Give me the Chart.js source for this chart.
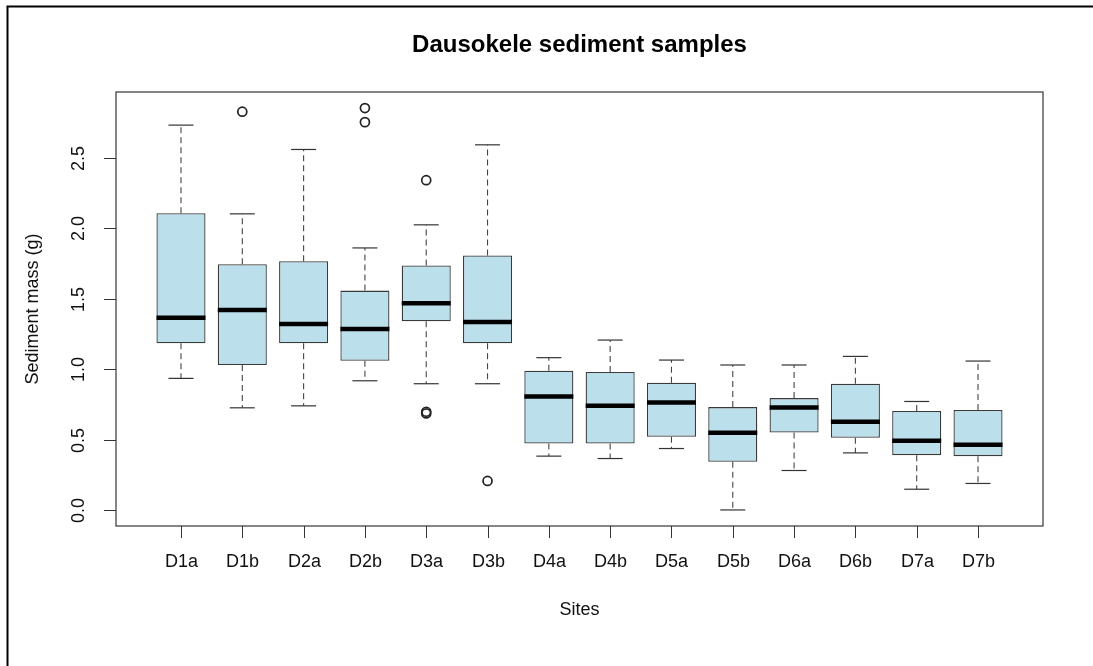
<!DOCTYPE html>
<html>
<head>
<meta charset="utf-8">
<script src="https://cdn.jsdelivr.net/npm/chart.js@4/dist/chart.umd.min.js"></script>
<style>
  html, body { margin: 0; padding: 0; background: #fff; }
  canvas { display: block; }
</style>
</head>
<body>
<canvas id="boxChart" width="1093" height="666"></canvas>
<script>
// Site names along the x axis
const sites = ['D1a', 'D1b', 'D2a', 'D2b', 'D3a', 'D3b', 'D4a', 'D4b', 'D5a', 'D5b', 'D6a', 'D6b', 'D7a', 'D7b'];

// Box plot statistics (g)
const lowerWhisker = [0.936, 0.727, 0.741, 0.919, 0.898, 0.898, 0.384, 0.367, 0.438, 0.002, 0.282, 0.407, 0.149, 0.190];
const q1           = [1.185, 1.031, 1.185, 1.061, 1.341, 1.185, 0.474, 0.474, 0.521, 0.344, 0.552, 0.514, 0.391, 0.384];
const medians      = [1.367, 1.421, 1.322, 1.286, 1.469, 1.336, 0.808, 0.741, 0.765, 0.550, 0.730, 0.628, 0.493, 0.464];
const q3           = [2.109, 1.746, 1.767, 1.559, 1.737, 1.808, 0.990, 0.981, 0.905, 0.732, 0.796, 0.898, 0.704, 0.711];
const upperWhisker = [2.734, 2.104, 2.561, 1.862, 2.026, 2.594, 1.083, 1.208, 1.066, 1.031, 1.031, 1.092, 0.772, 1.059];
const outliers     = [[], [2.829], [], [2.855, 2.755], [2.343, 0.699, 0.687], [0.208], [], [], [], [], [], [], [], []];

// Axis ticks
const yTicks = [0, 0.5, 1.0, 1.5, 2.0, 2.5];
const yTickLabels = ['0.0', '0.5', '1.0', '1.5', '2.0', '2.5'];

const FONT = '"Liberation Sans", Arial, Helvetica, sans-serif';

// Build the datasets from the arrays above
const boxData = sites.map((s, i) => ({ x: i + 1, y: [q1[i], q3[i]] }));

const whiskerData = [];
sites.forEach((s, i) => {
    whiskerData.push({ x: i + 1, y: q3[i] }, { x: i + 1, y: upperWhisker[i] }, { x: i + 1, y: null });
    whiskerData.push({ x: i + 1, y: q1[i] }, { x: i + 1, y: lowerWhisker[i] }, { x: i + 1, y: null });
});

const capData = [];
sites.forEach((s, i) => {
    capData.push({ x: i + 1, y: lowerWhisker[i] }, { x: i + 1, y: upperWhisker[i] });
});

const medianData = sites.map((s, i) => ({ x: i + 1, y: medians[i] }));

const outlierData = [];
outliers.forEach((list, i) => {
    list.forEach(v => outlierData.push({ x: i + 1, y: v }));
});

// Frame, ticks, labels and titles drawn R-style
const decorPlugin = {
    id: 'decor',
    afterDraw(chart) {
        const { ctx, chartArea: a, scales } = chart;
        const x = scales.x, y = scales.y;
        ctx.save();

        // outer border of the picture
        ctx.strokeStyle = '#000';
        ctx.lineWidth = 2;
        ctx.beginPath();
        ctx.moveTo(7.5, 666);
        ctx.lineTo(7.5, 6.5);
        ctx.lineTo(1093, 6.5);
        ctx.stroke();

        // plot frame
        ctx.strokeStyle = '#444';
        ctx.lineWidth = 1.3;
        ctx.strokeRect(a.left, a.top, a.right - a.left, a.bottom - a.top);

        // y ticks and rotated labels
        ctx.strokeStyle = '#333';
        ctx.lineWidth = 1;
        ctx.fillStyle = '#111';
        ctx.font = '18px ' + FONT;
        yTicks.forEach((v, i) => {
            const py = Math.round(y.getPixelForValue(v)) + 0.5;
            ctx.beginPath();
            ctx.moveTo(a.left, py);
            ctx.lineTo(a.left - 12, py);
            ctx.stroke();
            ctx.save();
            ctx.translate(79, py);
            ctx.rotate(-Math.PI / 2);
            ctx.textAlign = 'center';
            ctx.textBaseline = 'middle';
            ctx.fillText(yTickLabels[i], 0, 0);
            ctx.restore();
        });

        // x ticks and labels
        sites.forEach((s, i) => {
            const px = Math.round(x.getPixelForValue(i + 1)) + 0.5;
            ctx.beginPath();
            ctx.moveTo(px, a.bottom);
            ctx.lineTo(px, a.bottom + 12);
            ctx.stroke();
            ctx.textAlign = 'center';
            ctx.textBaseline = 'middle';
            ctx.fillText(s, px, 562);
        });

        // axis titles
        ctx.fillText('Sites', (a.left + a.right) / 2, 610);
        ctx.save();
        ctx.translate(33, (a.top + a.bottom) / 2);
        ctx.rotate(-Math.PI / 2);
        ctx.fillText('Sediment mass (g)', 0, 0);
        ctx.restore();

        // main title
        ctx.font = 'bold 24px ' + FONT;
        ctx.fillStyle = '#000';
        ctx.fillText('Dausokele sediment samples', (a.left + a.right) / 2, 45);

        ctx.restore();
    }
};

const boxChart = new Chart(document.getElementById('boxChart'), {
    type: 'bar',
    data: {
        datasets: [
            {
                type: 'line',
                label: 'whiskers',
                data: whiskerData,
                borderColor: '#444',
                borderWidth: 1.1,
                borderDash: [6, 4],
                pointRadius: 0,
                spanGaps: false,
                fill: false,
                order: 5
            },
            {
                type: 'bar',
                label: 'boxes',
                data: boxData,
                backgroundColor: '#BBE0EC',
                borderColor: '#3a3a3a',
                borderWidth: 1.3,
                borderSkipped: false,
                categoryPercentage: 0.8,
                barPercentage: 1.0,
                order: 4
            },
            {
                type: 'scatter',
                label: 'caps',
                data: capData,
                showLine: false,
                pointStyle: 'line',
                pointRadius: 12.5,
                pointBorderWidth: 1.2,
                pointBorderColor: '#333',
                order: 3
            },
            {
                type: 'scatter',
                label: 'medians',
                data: medianData,
                showLine: false,
                pointStyle: 'line',
                pointRadius: 24.5,
                pointBorderWidth: 4.5,
                pointBorderColor: '#000',
                order: 2
            },
            {
                type: 'scatter',
                label: 'outliers',
                data: outlierData,
                showLine: false,
                pointStyle: 'circle',
                pointRadius: 4.5,
                pointBorderWidth: 1.7,
                pointBorderColor: '#222',
                pointBackgroundColor: 'rgba(0,0,0,0)',
                order: 1
            }
        ]
    },
    options: {
        responsive: false,
        animation: false,
        events: [],
        layout: { padding: { left: 116, top: 92, right: 50, bottom: 140 } },
        plugins: {
            legend: { display: false },
            tooltip: { enabled: false },
            title: { display: false }
        },
        scales: {
            x: {
                type: 'linear',
                min: -0.06,
                max: 15.06,
                offset: false,
                display: false
            },
            y: {
                type: 'linear',
                min: -0.112,
                max: 2.969,
                display: false
            }
        }
    },
    plugins: [decorPlugin]
});
</script>
</body>
</html>
